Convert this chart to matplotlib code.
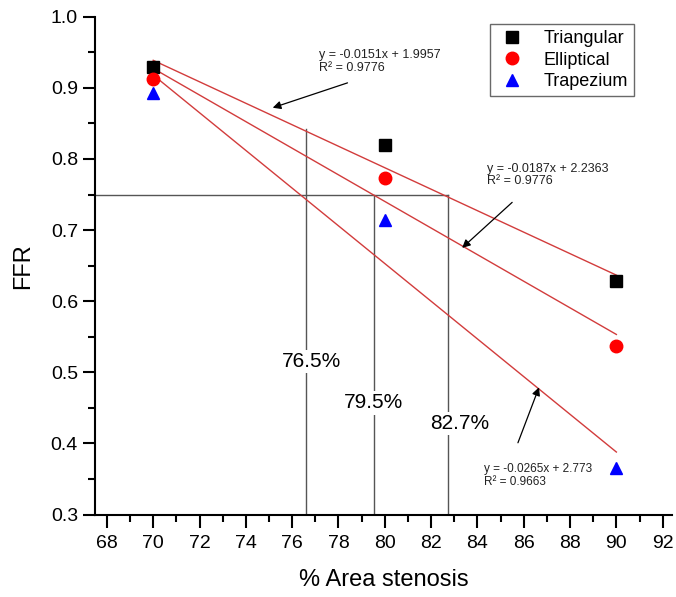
import numpy as np
import matplotlib.pyplot as plt
from matplotlib.ticker import MultipleLocator

plt.rcParams['font.family'] = ['Liberation Sans', 'DejaVu Sans']

# --- Daten ---
x_vals = [70, 80, 90]
triangular = [0.930, 0.820, 0.628]
elliptical = [0.912, 0.773, 0.537]
trapezium = [0.893, 0.714, 0.365]

# lineare Fits (Steigung, Achsenabschnitt, R²)
fit_slope = [-0.0151, -0.0187, -0.0265]
fit_icept = [1.9957, 2.2363, 2.773]
fit_r2 = ["0.9776", "0.9776", "0.9663"]
fit_eq = ["y = -0.0151x + 1.9957", "y = -0.0187x + 2.2363", "y = -0.0265x + 2.773"]

# Schwellwert FFR = 0.75 und Schnittpunkte
ffr_cut = 0.75
cut_x = [76.58, 79.55, 82.74]
cut_top = [0.842, 0.75, 0.75]
cut_labels = ["76.5%", "79.5%", "82.7%"]

fig = plt.figure(figsize=(6.76, 5.97), dpi=100)
ax = fig.add_axes([0.141, 0.138, 0.853, 0.834])

# Hilfslinien
ax.plot([67.5, cut_x[2]], [ffr_cut, ffr_cut], color="#555555", lw=1.0, zorder=1)
for cx, ct in zip(cut_x, cut_top):
    ax.plot([cx, cx], [0.3, ct], color="#555555", lw=1.0, zorder=1)

# Fit-Geraden
fx = np.array([70, 90])
for m, b in zip(fit_slope, fit_icept):
    ax.plot(fx, m * fx + b, color="#d23c3c", lw=1.0, zorder=2)

# Messpunkte
ax.plot(x_vals, triangular, "s", color="black", ms=8, label="Triangular", zorder=4)
ax.plot(x_vals, elliptical, "o", color="red", ms=9, label="Elliptical", zorder=4)
ax.plot(x_vals, trapezium, "^", color="blue", ms=9, label="Trapezium", zorder=4)

# Prozent-Beschriftungen
lab_pos = [(76.84, 0.515), (79.5, 0.457), (83.24, 0.428)]
for (lx, ly), t in zip(lab_pos, cut_labels):
    ax.text(lx, ly, t, fontsize=15, ha="center", va="center", zorder=3,
            bbox=dict(facecolor="white", edgecolor="none", pad=1.5))

# Gleichungen mit Pfeilen
eq_pos = [(77.14, 0.954), (84.43, 0.795), (84.30, 0.373)]
eq_size = [9, 9, 8.5]
arrow_tail = [(78.39, 0.907), (85.5, 0.739), (85.75, 0.401)]
arrow_head = [(75.16, 0.872), (83.34, 0.675), (86.66, 0.479)]
for (ex, ey), eq, r2, fs in zip(eq_pos, fit_eq, fit_r2, eq_size):
    ax.text(ex, ey, f"{eq}\nR² = {r2}", fontsize=fs, ha="left", va="top",
            linespacing=1.1, color="#222222")
for tail, head in zip(arrow_tail, arrow_head):
    ax.annotate("", xy=head, xytext=tail,
                arrowprops=dict(arrowstyle="-|>", color="black", lw=0.9,
                                mutation_scale=12, shrinkA=0, shrinkB=0))

# Achsen
ax.set_xlim(67.5, 92.4)
ax.set_ylim(0.3, 1.0)
ax.xaxis.set_major_locator(MultipleLocator(2))
ax.xaxis.set_minor_locator(MultipleLocator(1))
ax.yaxis.set_major_locator(MultipleLocator(0.1))
ax.yaxis.set_minor_locator(MultipleLocator(0.05))
ax.yaxis.set_major_formatter(plt.FuncFormatter(lambda v, p: f"{v:.1f}"))
ax.tick_params(which="major", direction="out", length=9, width=1.5, labelsize=14)
ax.tick_params(which="minor", direction="out", length=5, width=1.5)
ax.tick_params(axis="x", which="major", pad=6)
for s in ["top", "right"]:
    ax.spines[s].set_visible(False)
for s in ["left", "bottom"]:
    ax.spines[s].set_linewidth(1.5)

ax.set_xlabel("% Area stenosis", fontsize=17, labelpad=12)
ax.set_ylabel("FFR", fontsize=17, labelpad=12)

leg = ax.legend(loc="upper right", bbox_to_anchor=(0.934, 0.986), borderaxespad=0,
                fontsize=13, frameon=True, fancybox=False, handletextpad=0.8,
                labelspacing=0.25, borderpad=0.35, handlelength=1.8)
leg.get_frame().set_edgecolor("#444444")
leg.get_frame().set_linewidth(1.0)

fig.savefig("out.png", dpi=100)
